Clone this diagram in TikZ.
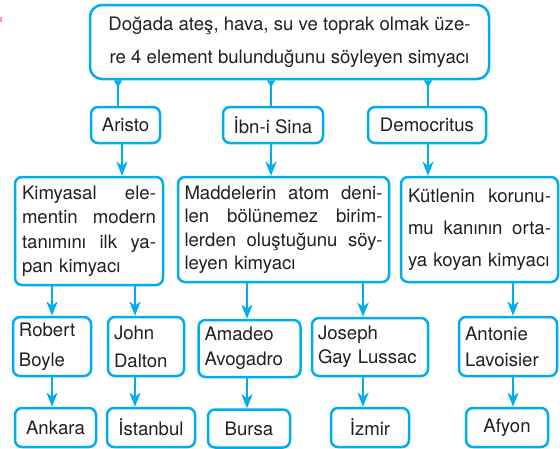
\documentclass[tikz,border=0pt]{standalone}
\usepackage{fontspec}
\setmainfont{TeX Gyre Heros}
\usetikzlibrary{arrows.meta}
\definecolor{boxcyan}{HTML}{00AEEF}
\definecolor{ink}{HTML}{231F20}
\definecolor{markpink}{HTML}{F49AC1}
\newcommand{\jl}[2]{\leavevmode\hbox to #1{\spaceskip=0.28em plus 1fil\relax #2}\\}
\begin{document}
\begin{tikzpicture}[x=1pt,y=-1pt,text=ink,
	box/.style={draw=boxcyan,line width=2.5pt,rounded corners=7pt,inner sep=0pt},
	link/.style={draw=boxcyan,line width=2.5pt,-{Stealth[length=14pt,width=11pt,inset=4pt]}},
	root/.style={draw=boxcyan,line width=2.5pt,{Triangle[reversed,length=7pt,width=8pt]}-},
	font=\fontsize{18.6}{24}\selectfont]
	\useasboundingbox (0,0) rectangle (560,448);
	\fill[markpink] (0,17) rectangle (2,22);
	% top
	\node[box,rounded corners=12pt,minimum width=399pt,minimum height=74pt,align=center,
		font=\fontsize{18.6}{33}\selectfont] (top) at (289.5,42)
		{Doğada ateş, hava, su ve toprak olmak üze-\\re 4 element bulunduğunu söyleyen simyacı};
	% level 1
	\node[box,minimum width=69pt,minimum height=36pt] (aristo) at (125.5,125) {Aristo};
	\node[box,minimum width=100pt,minimum height=36pt] (ibn) at (273,125) {İbn-i Sina};
	\node[box,minimum width=118pt,minimum height=36pt] (demo) at (427,125) {Democritus};
	% level 2
	\node[box,minimum width=148pt,minimum height=108pt,text width=134pt,align=left,
		font=\fontsize{18.6}{24.5}\selectfont] (kimya) at (89,231)
		{\jl{134pt}{Kimyasal ele-}\jl{134pt}{mentin modern}\jl{134pt}{tanımını ilk ya-}pan kimyacı};
	\node[box,minimum width=211pt,minimum height=105pt,text width=198pt,align=left,
		font=\fontsize{18.6}{23.5}\selectfont] (madde) at (283.5,229.5)
		{\jl{198pt}{Maddelerin atom deni-}\jl{198pt}{len bölünemez birim-}\jl{198pt}{lerden oluştuğunu söy-}leyen kimyacı};
	\node[box,minimum width=157pt,minimum height=105pt,text width=143pt,align=left,
		font=\fontsize{18.6}{32}\selectfont] (kutle) at (479.5,229.5)
		{\jl{143pt}{Kütlenin korunu-}\jl{143pt}{mu kanının orta-}ya koyan kimyacı};
	% level 3
	\node[box,minimum width=78pt,minimum height=59pt,text width=66pt,align=left,
		font=\fontsize{18.6}{30}\selectfont] (robert) at (52,346.5) {Robert\\Boyle};
	\node[box,minimum width=76pt,minimum height=59pt,text width=64pt,align=left,
		font=\fontsize{18.6}{28}\selectfont] (john) at (146,346.5) {John\\Dalton};
	\node[box,minimum width=102pt,minimum height=57pt,text width=90pt,align=left,
		font=\fontsize{18.6}{25}\selectfont] (amadeo) at (249.5,348.5) {Amadeo\\Avogadro};
	\node[box,minimum width=116pt,minimum height=58pt,text width=104pt,align=left,
		font=\fontsize{18.6}{24}\selectfont] (joseph) at (370,347) {Joseph\\Gay Lussac};
	\node[box,minimum width=98pt,minimum height=59pt,text width=86pt,align=left,
		font=\fontsize{18.6}{26}\selectfont] (antonie) at (508,346.5) {Antonie\\Lavoisier};
	% level 4
	\node[box,minimum width=81pt,minimum height=39pt] (ankara) at (55.5,427.5) {Ankara};
	\node[box,minimum width=88pt,minimum height=39pt] (istanbul) at (151,427.5) {İstanbul};
	\node[box,minimum width=82pt,minimum height=38pt] (bursa) at (249,428.5) {Bursa};
	\node[box,minimum width=78pt,minimum height=39pt] (izmir) at (370,427.5) {İzmir};
	\node[box,minimum width=82pt,minimum height=39pt] (afyon) at (507,427.5) {Afyon};
	% connectors
	\foreach \b/\x in {aristo/118, ibn/271, demo/428}
		\draw[root] (top.south -| \x,0) -- (\b.north -| \x,0);
	\foreach \a/\b/\x in {aristo/kimya/122, ibn/madde/271, demo/kutle/428,
		kimya/robert/52, kimya/john/135, madde/amadeo/247, madde/joseph/363, kutle/antonie/513,
		robert/ankara/52, john/istanbul/135, amadeo/bursa/247, joseph/izmir/363, antonie/afyon/513}
		\draw[link] (\a.south -| \x,0) -- (\b.north -| \x,0);
\end{tikzpicture}
\end{document}
